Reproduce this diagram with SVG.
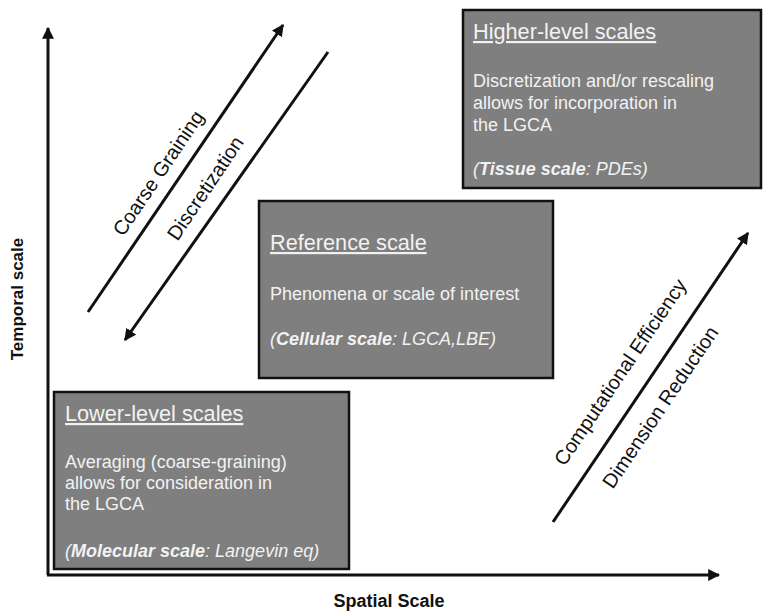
<svg xmlns="http://www.w3.org/2000/svg" width="763" height="611" viewBox="0 0 763 611">
<style>
.box{fill:#7f7f7f;stroke:#111;stroke-width:2.5}
.t{font-family:"Liberation Sans",Arial,sans-serif;fill:#f2f2f2}
.title{font-size:21.7px;text-decoration:underline}
.body{font-size:18px}
.it{font-size:18px;font-style:italic}
.b{font-weight:bold}
.lab{font-family:"Liberation Sans",Arial,sans-serif;font-size:20px;fill:#111}
.ax{font-family:"Liberation Sans",Arial,sans-serif;font-weight:bold;fill:#111}
.ln{stroke:#111;stroke-width:3;fill:none}
</style>
<defs>
<marker id="ah" viewBox="0 0 10 10" refX="9" refY="5" markerWidth="4" markerHeight="4" orient="auto" markerUnits="strokeWidth">
<path d="M0,0 L10,5 L0,10 z" fill="#111"/>
</marker>
</defs>
<rect width="763" height="611" fill="#fff"/>
<g id="connectors">
<line class="ln" x1="48" y1="575" x2="48" y2="28" marker-end="url(#ah)"/>
<line class="ln" x1="47" y1="575" x2="719" y2="575" marker-end="url(#ah)"/>
<line class="ln" x1="88" y1="312" x2="283" y2="25" marker-end="url(#ah)"/>
<line class="ln" x1="328" y1="52" x2="125" y2="340" marker-end="url(#ah)"/>
<line class="ln" x1="553" y1="522" x2="748" y2="233" marker-end="url(#ah)"/>
<text class="lab" font-size="21" text-anchor="middle" transform="translate(164,177) rotate(-56)">Coarse Graining</text>
<text class="lab" font-size="21" text-anchor="middle" transform="translate(211,192) rotate(-56)">Discretization</text>
<text class="lab" text-anchor="middle" transform="translate(626,376) rotate(-56)">Computational Efficiency</text>
<text class="lab" text-anchor="middle" transform="translate(666,411) rotate(-56)">Dimension Reduction</text>
</g>
<g id="axis-labels">
<text class="ax" font-size="17" text-anchor="middle" transform="translate(23,299) rotate(-90)">Temporal scale</text>
<text class="ax" font-size="18" text-anchor="middle" x="389" y="607">Spatial Scale</text>
</g>
<g id="higher">
<rect class="box" x="463" y="10" width="298" height="178"/>
<text class="t title" x="473" y="39">Higher-level scales</text>
<text class="t body" x="473" y="87">Discretization and/or rescaling</text>
<text class="t body" x="473" y="109">allows for incorporation in</text>
<text class="t body" x="473" y="131">the LGCA</text>
<text class="t it" x="473" y="175">(<tspan class="b">Tissue scale</tspan>: PDEs)</text>
</g>
<g id="reference">
<rect class="box" x="259" y="201" width="294" height="177"/>
<text class="t title" x="270" y="250">Reference scale</text>
<text class="t body" x="270" y="300">Phenomena or scale of interest</text>
<text class="t it" x="270" y="345">(<tspan class="b">Cellular scale</tspan>: LGCA,LBE)</text>
</g>
<g id="lower">
<rect class="box" x="54" y="392" width="295" height="177"/>
<text class="t title" x="65" y="421">Lower-level scales</text>
<text class="t body" x="65" y="468">Averaging (coarse-graining)</text>
<text class="t body" x="65" y="489">allows for consideration in</text>
<text class="t body" x="65" y="510">the LGCA</text>
<text class="t it" x="65" y="557">(<tspan class="b">Molecular scale</tspan>: Langevin eq)</text>
</g>
</svg>
